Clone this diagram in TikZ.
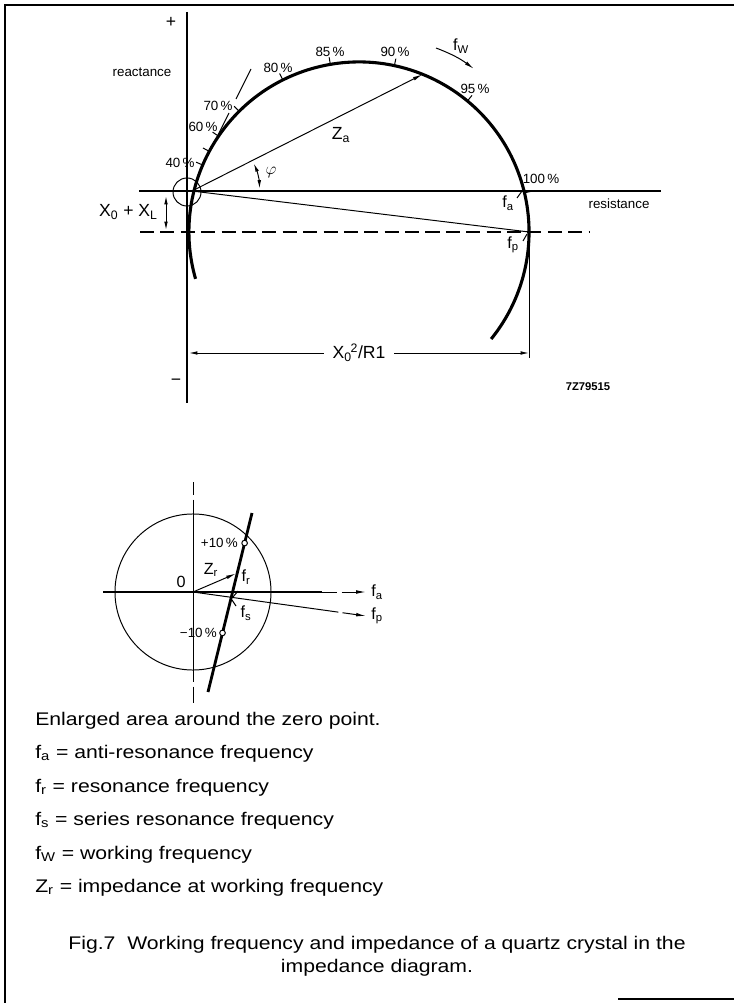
\documentclass[tikz,border=0pt]{standalone}
\usepackage{fontspec}
\setmainfont{Liberation Sans}
\newfontfamily\notefont[FakeStretch=1.16]{Liberation Sans}
\usetikzlibrary{arrows.meta,calc}

\begin{document}
\begin{tikzpicture}[x=0.025cm, y=0.025cm,
    axis/.style={line width=1pt},
    thinln/.style={line width=0.7pt},
    locus/.style={line width=2.2pt},
    arr/.style={-{Latex[length=7pt,width=2.6pt]}, line width=0.7pt},
    dbl/.style={{Latex[length=6pt,width=2.6pt]}-{Latex[length=6pt,width=2.6pt]}, line width=0.7pt},
    dashln/.style={line width=0.8pt, dash pattern=on 10pt off 4.5pt},
    pct/.style={font=\fontsize{9.5}{11}\selectfont, inner sep=0pt},
    lbl/.style={font=\fontsize{12.5}{14}\selectfont, inner sep=0pt},
    sml/.style={font=\fontsize{11.5}{13}\selectfont, inner sep=0pt},
    note/.style={font=\notefont\fontsize{13}{15}\selectfont, anchor=base west, inner sep=0pt},
]
\useasboundingbox (0,0) rectangle (734,-1003);

% ── Frame ─────────────────────────────────────────────
\draw[line width=1.4pt] (5,-1003) -- (5,-5) -- (734,-5);
\draw[line width=1.4pt] (618,-999) -- (734,-999);

% ── Main diagram: axes ────────────────────────────────
\coordinate (C) at (359,-232);
\coordinate (zero) at (192,-191);
\draw[axis] (187,-12) -- (187,-403);
\draw[axis] (139,-191) -- (661,-191);
\node[lbl] (plus) at (171,-22) {+};
\node[lbl] (minus) at (176,-382) {−};
\node[pct] (reac) at (142,-72) {reactance};
\node[pct] (resis) at (619,-204) {resistance};
\draw[thinln] (187,-192) circle[radius=0.35cm];

% ── Impedance locus with ticks ────────────────────────
\draw[locus] ($(C)+(196:4.25cm)$) arc[start angle=196, end angle=-39, radius=4.25cm];
\foreach \a in {156.8,151.7,145.7,134.8,116.6,99.7,78,50.4,13.3}
  \draw[thinln] ($(C)+(\a:4.25cm)$) -- ($(C)+(\a:4.43cm)$);
\draw[thinln] (251,-69) -- (236,-99);
\draw[thinln] (229,-113) -- (216,-139);

\node[pct] (p40) at (180,-163) {40\,\%};
\node[pct] (p60) at (203,-127) {60\,\%};
\node[pct] (p70) at (218,-106) {70\,\%};
\node[pct] (p80) at (278,-68) {80\,\%};
\node[pct] (p85) at (330,-52) {85\,\%};
\node[pct] (p90) at (395,-52) {90\,\%};
\node[pct] (p95) at (475,-89) {95\,\%};
\node[pct] (p100) at (541,-179) {100\,\%};

% ── Vectors and dimensions ────────────────────────────
\coordinate (za) at ($(C)+(68:4.25cm)$);
\coordinate (fp) at ($(C)+(0:4.25cm)$);
\draw[arr] (zero) -- (za);
\draw[thinln] (zero) -- (fp);
\node[lbl] (Za) at (341,-135) {Z\textsubscript{a}};
\draw[dbl] ($(zero)+(24:1.69cm)$) arc[start angle=24, end angle=2, radius=1.69cm];
\node[sml] (phi) at (271,-173) {$\varphi$};

\draw[dashln] (140,-232) -- (590,-232);
\draw[dbl] (166,-196) -- (166,-230);
\node[lbl, anchor=base east] (xl) at (158,-217) {X\textsubscript{0} + X\textsubscript{L}};

\draw[thinln] (fp) -- ++(0,-126) coordinate (fpb);
\draw[dbl] (189,-353) -- node[lbl, fill=white, inner xsep=6pt, inner ysep=2pt] (dim)
    {X\textsubscript{0}\hspace{-1pt}\textsuperscript{2}/R1} (fpb |- 0,-353);
\node[font=\bfseries\fontsize{8}{9}\selectfont, inner sep=0pt] (code) at (588,-387) {7Z79515};

% ── Frequency labels ──────────────────────────────────
\node[sml] (fw) at (461,-46) {f\textsubscript{W}};
\draw[arr] (436,-48) to[bend left=8] (474,-69);
\node[sml] (fa) at (508,-203) {f\textsubscript{a}};
\draw[thinln] (517,-198) -- (522,-191);
\node[sml] (fpl) at (513,-245) {f\textsubscript{p}};
\draw[thinln] (523,-241) -- (527,-234);

% ── Inset: enlarged zero point ────────────────────────
\coordinate (O) at (193,-592);
\draw[thinln] (O) circle[radius=1.95cm];
\draw[thinln, dash pattern=on 9pt off 3.5pt on 130pt off 3pt on 12pt off 3pt] (193,-482) -- (193,-703);
\draw[axis] (103,-592) -- (322,-592);
\draw[arr, dash pattern=on 11pt off 3pt] (322,-592) -- (366,-592);
\draw[thinln] (O) -- (323,-610);
\draw[arr, dash pattern=on 11pt off 3pt] (323,-610) -- (366,-616);
\node[sml, anchor=west] (fa2) at (371,-592) {f\textsubscript{a}};
\node[sml, anchor=west] (fp2) at (371,-616) {f\textsubscript{p}};

\draw[locus, line width=2pt] (252,-513) -- coordinate[pos=0.168] (p10)
    coordinate[pos=0.335] (zr) coordinate[pos=0.67] (m10) (208,-692);
\draw[arr, shorten >=1pt] (O) -- (zr);
\draw[thinln, fill=white] (p10) circle[radius=0.07cm];
\draw[thinln, fill=white] (m10) circle[radius=0.07cm];
\node[pct, anchor=east] (plus10) at (238,-543) {+10\,\%};
\node[pct, anchor=east] (minus10) at (217,-633) {−10\,\%};
\node[sml] (zero0) at (181,-582) {0};
\node[sml] (Zr) at (211,-570) {Z\textsubscript{r}};
\node[sml] (fr) at (246,-577) {f\textsubscript{r}};
\draw[thinln] (233,-597) -- (238,-591);
\node[sml] (fs) at (246,-613) {f\textsubscript{s}};
\draw[thinln] (232,-600) -- (236,-606);

% ── Legend ────────────────────────────────────────────
\node[note] (n0) at (35,-725) {Enlarged area around the zero point.};
\node[note] (n1) at (35,-758) {f\textsubscript{a} = anti-resonance frequency};
\node[note] (n2) at (35,-792) {f\textsubscript{r} = resonance frequency};
\node[note] (n3) at (35,-825) {f\textsubscript{s} = series resonance frequency};
\node[note] (n4) at (35,-859) {f\textsubscript{W} = working frequency};
\node[note] (n5) at (35,-892) {Z\textsubscript{r} = impedance at working frequency};

\node[font=\notefont\fontsize{13}{16.4}\selectfont, align=center, anchor=north, inner sep=0pt] (cap)
    at (377,-936) {Fig.7\ \ Working frequency and impedance of a quartz crystal in the\\impedance diagram.};

\end{tikzpicture}
\end{document}
